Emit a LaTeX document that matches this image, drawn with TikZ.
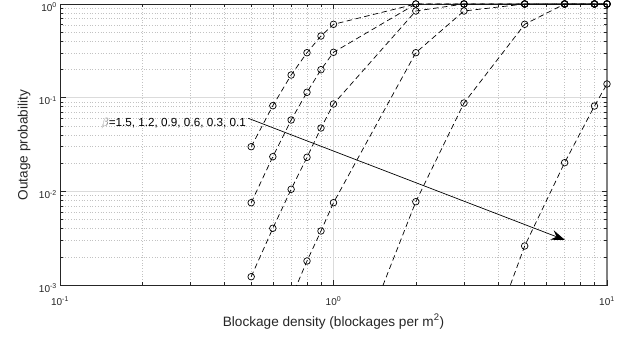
\documentclass[tikz,border=0pt]{standalone}
\usepackage{fontspec}
\setmainfont{Liberation Sans}
\usetikzlibrary{arrows.meta}

\definecolor{axiscol}{RGB}{38,38,38}

% One outage curve: #1 = first point, #2 = remaining points,
% each given as log10(density)/log10(probability).
\newcommand\outagecurve[2]{%
  \begin{scope}
    \clip (-1.003,-3) rectangle (1.003,0.005);
    \draw[curveline] (#1) \foreach \lx/\lp in {#2}{ -- (\lx,\lp) };
  \end{scope}
  \foreach \lx/\lp in {#2}{%
    \ifdim\lp pt<-3pt\else\draw[ringmark] (\lx,\lp) circle[radius=3.3pt];\fi}%
}

\begin{document}
\begin{tikzpicture}[x=1pt,y=1pt,
  plotframe/.style={draw=axiscol, line width=0.8pt},
  tickmark/.style={draw=axiscol, line width=0.6pt},
  majorgrid/.style={draw=black!14, line width=0.5pt},
  minorgrid/.style={draw=black!24, line width=0.5pt, dash pattern=on 0.7pt off 2pt},
  curveline/.style={draw=black, line width=0.7pt, dash pattern=on 5.5pt off 3.5pt},
  ringmark/.style={draw=black, line width=0.7pt},
  ticklabel/.style={text=axiscol, font=\fontsize{10}{12}\selectfont, inner sep=0pt},
  axislabel/.style={text=axiscol, font=\fontsize{13.6}{16}\selectfont, inner sep=0pt},
  annot/.style={text=black, font=\fontsize{11.7}{14}\selectfont, inner sep=0pt},
  pointer/.style={draw=black, line width=0.7pt, -{Stealth[length=14pt,width=10pt,inset=5pt]}}]

\useasboundingbox[fill=white] (0,0) rectangle (641,341);

% log-log axes: one decade = 273.5pt horizontally, 93.67pt vertically;
% the origin sits at density 1, probability 1
\begin{scope}[shift={(333.5,337)}, x=273.5pt, y=93.67pt]

  % minor grid
  \foreach \d in {-1,0}
    \foreach \m in {2,...,9}
      \draw[minorgrid] ({\d+log10(\m)},-3) -- ({\d+log10(\m)},0);
  \foreach \e in {-3,-2,-1}
    \foreach \m in {2,...,9}
      \draw[minorgrid] (-1,{\e+log10(\m)}) -- (1,{\e+log10(\m)});

  % major grid
  \draw[majorgrid] (0,-3) -- (0,0);
  \foreach \e in {-2,-1}
    \draw[majorgrid] (-1,\e) -- (1,\e);

  % box
  \draw[plotframe] (-1,-3) rectangle (1,0);
  \draw[draw=black!50, line width=2.4pt] (1,-3) -- (1,0);

  % ticks on all four sides
  \foreach \d in {-1,0,1}{
    \draw[tickmark] (\d,-3) -- ++(0,5.5pt);
    \draw[tickmark] (\d,0) -- ++(0,-5.5pt);
  }
  \foreach \d in {-1,0}
    \foreach \m in {2,...,9}{
      \draw[tickmark] ({\d+log10(\m)},-3) -- ++(0,3.3pt);
      \draw[tickmark] ({\d+log10(\m)},0) -- ++(0,-3.3pt);
    }
  \foreach \e in {-3,...,0}{
    \draw[tickmark] (-1,\e) -- ++(5.5pt,0);
    \draw[tickmark] (1,\e) -- ++(-5.5pt,0);
  }
  \foreach \e in {-3,-2,-1}
    \foreach \m in {2,...,9}{
      \draw[tickmark] (-1,{\e+log10(\m)}) -- ++(3.3pt,0);
      \draw[tickmark] (1,{\e+log10(\m)}) -- ++(-3.3pt,0);
    }

  % tick labels
  \foreach \d in {-1,0,1}
    \node[ticklabel, anchor=base, yshift=-20.6pt] (xtick\d) at (\d,-3) {10\textsuperscript{\d}};
  \foreach \e in {-3,...,0}
    \node[ticklabel, anchor=base east, xshift=-3pt, yshift=-7.3pt] (ytick\e) at (-1,\e) {10\textsuperscript{\e}};

  % beta = 1.5
  \outagecurve{-0.3010,-1.5234}{-0.3010/-1.5234, -0.2218/-1.0857, -0.1549/-0.7580,
    -0.0969/-0.5199, -0.0458/-0.3416, 0/-0.2167, 0.3010/0, 0.4771/0,
    0.6990/0, 0.8451/0, 0.9542/0, 1/0}
  % beta = 1.2
  \outagecurve{-0.3010,-2.1213}{-0.3010/-2.1213, -0.2218/-1.6302, -0.1549/-1.2384,
    -0.0969/-0.9427, -0.0458/-0.7014, 0/-0.5156, 0.3010/0, 0.4771/0,
    0.6990/0, 0.8451/0, 0.9542/0, 1/0}
  % beta = 0.9
  \outagecurve{-0.3010,-2.9113}{-0.3010/-2.9113, -0.2218/-2.3946, -0.1549/-1.9782,
    -0.0969/-1.6366, -0.0458/-1.3238, 0/-1.0676, 0.3010/-0.0747, 0.4771/0,
    0.6990/0, 0.8451/0, 0.9542/0, 1/0}
  % beta = 0.6
  \outagecurve{-0.1549,-3.1430}{-0.1549/-3.1430, -0.0969/-2.7437, -0.0458/-2.4234,
    0/-2.1213, 0.3010/-0.5199, 0.4771/-0.0747, 0.6990/0, 0.8451/0,
    0.9542/0, 1/0}
  % beta = 0.3
  \outagecurve{0,-4.348}{0/-4.348, 0.3010/-2.1106, 0.4771/-1.0569,
    0.6990/-0.2167, 0.8451/0, 0.9542/0, 1/0}
  % beta = 0.1
  \outagecurve{0.4771,-4.350}{0.4771/-4.350, 0.6990/-2.5835, 0.8451/-1.6942,
    0.9542/-1.0889, 1/-0.8541}
\end{scope}

% axis titles
\node[axislabel, anchor=base] (xlabel) at (333.5,15) {Blockage density (blockages per m\textsuperscript{2})};
\node[axislabel, rotate=90] (ylabel) at (24,196) {Outage probability};

% direction of decreasing beta
\coordinate (tail) at (248.3,222.7);
\coordinate (tip) at (565,101);
\node[annot, anchor=base east] (betalist) at (246,214.3) {\textcolor{black!60}{$\beta$}=1.5, 1.2, 0.9, 0.6, 0.3, 0.1};
\draw[pointer] (tail) -- (tip);

\end{tikzpicture}
\end{document}
